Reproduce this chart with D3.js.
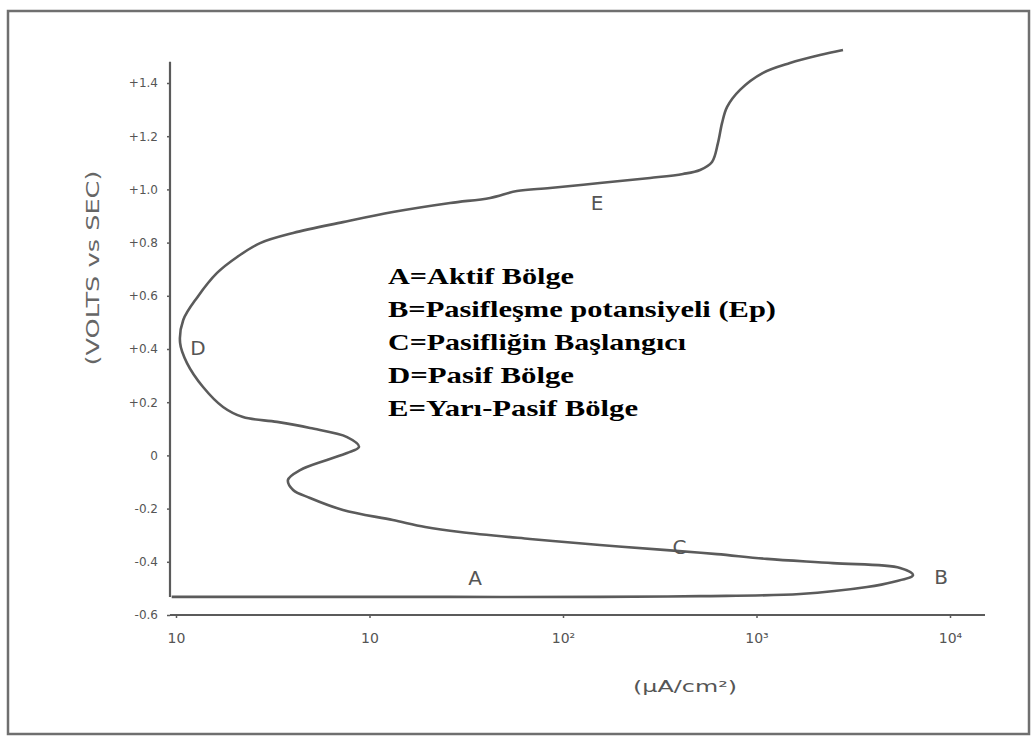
<!DOCTYPE html>
<html>
<head>
<meta charset="utf-8">
<script src="https://cdn.jsdelivr.net/npm/d3@7"></script>
<style>
  body { margin: 0; background: #fff; }
  svg { display: block; }
</style>
</head>
<body>
<svg id="polCurve"></svg>
<script>
// polarization curve: current density (uA/cm2) and potential (V vs SCE)
let currents = [0.95, 4.38, 26.1, 155, 511, 1679, 3724, 5070, 6442, 5521,
                2483, 1132, 625, 344, 155, 67.5, 29.4, 19.4, 13.2, 7.29, 4.93,
                4.03, 3.79, 4.38, 6.03, 7.66, 8.83, 7.66, 4.93, 3.33, 2.22,
                1.75, 1.38, 1.14, 1.05, 1.09, 1.29, 1.63, 2.07, 2.72, 4.03,
                7.29, 13.2, 26.1, 42.0, 57.8, 85.7, 155, 282, 417, 511,
                589, 632, 664, 705, 822, 1081, 1489, 2128, 2799];
let potentials = [-0.532, -0.532, -0.532, -0.532, -0.529, -0.521, -0.495, -0.476, -0.450, -0.423,
                  -0.405, -0.389, -0.371, -0.356, -0.337, -0.314, -0.288, -0.269, -0.243, -0.205, -0.160,
                  -0.130, -0.092, -0.055, -0.017, 0.009, 0.032, 0.069, 0.103, 0.126, 0.144,
                  0.182, 0.257, 0.347, 0.423, 0.509, 0.595, 0.686, 0.746, 0.798, 0.836,
                  0.877, 0.915, 0.949, 0.968, 0.994, 1.005, 1.024, 1.043, 1.058, 1.073,
                  1.103, 1.174, 1.250, 1.310, 1.374, 1.438, 1.475, 1.505, 1.524];

// region letters on the curve
let regionNames = ['A', 'B', 'C', 'D', 'E'];
let regionCurrents = [35.1, 9000, 400, 1.3, 150];
let regionPotentials = [-0.461, -0.455, -0.345, 0.403, 0.948];

// tick values and labels
let yTickVals = [1.4, 1.2, 1.0, 0.8, 0.6, 0.4, 0.2, 0, -0.2, -0.4, -0.6];
let yTickLabels = ['+1.4', '+1.2', '+1.0', '+0.8', '+0.6', '+0.4', '+0.2', '0', '-0.2', '-0.4', '-0.6'];
let xTickVals = [1, 10, 100, 1000, 10000];
let xTickLabels = ['10', '10', '10²', '10³', '10⁴'];

// legend text lines
let legendLines = ['A=Aktif Bölge', 'B=Pasifleşme potansiyeli (Ep)', 'C=Pasifliğin Başlangıcı',
                   'D=Pasif Bölge', 'E=Yarı-Pasif Bölge'];
let legendWidths = [186, 388, 298, 186, 250];

let widthSVG = 1035;
let heightSVG = 740;
let inkCol = '#5b5b5b';

let SVG = d3.select('svg#polCurve')
            .attr('width', widthSVG)
            .attr('height', heightSVG);

// scan frame
SVG.append('rect')
   .attr('x', 8)
   .attr('y', 11)
   .attr('width', 1021)
   .attr('height', 723)
   .style('fill', 'none')
   .style('stroke', '#6f6f6f')
   .style('stroke-width', 2.5);

// scales
let x = d3.scaleLog().domain([1, 10000]).range([176, 950]);
let y = d3.scaleLinear().domain([-0.6, 1.4]).range([615, 83]);

let axisX0 = 170;   // left edge of plot where the vertical axis sits

// vertical axis line, ends where the curve starts
SVG.append('line')
   .attr('x1', axisX0).attr('x2', axisX0)
   .attr('y1', y(1.48)).attr('y2', y(potentials[0]))
   .style('stroke', inkCol)
   .style('stroke-width', 2.2);

// horizontal axis line
SVG.append('line')
   .attr('x1', axisX0).attr('x2', 985)
   .attr('y1', y(-0.6)).attr('y2', y(-0.6))
   .style('stroke', inkCol)
   .style('stroke-width', 2.2);

// y axis ticks
let yAxis = d3.axisLeft(y)
              .tickValues(yTickVals)
              .tickSize(3)
              .tickPadding(9)
              .tickFormat((d, i) => yTickLabels[i]);

let yAxisG = SVG.append('g')
                .attr('transform', `translate(${axisX0}, 0)`)
                .call(yAxis);
yAxisG.select('.domain').remove();
yAxisG.selectAll('line').style('stroke', inkCol).style('stroke-width', 1.5);
yAxisG.selectAll('text')
      .style('font-family', 'DejaVu Sans')
      .style('font-size', '12px')
      .style('fill', '#555');

// x axis ticks
let xAxis = d3.axisBottom(x)
              .tickValues(xTickVals)
              .tickSize(3)
              .tickPadding(15)
              .tickFormat((d, i) => xTickLabels[i]);

let xAxisG = SVG.append('g')
                .attr('transform', `translate(0, ${y(-0.6)})`)
                .call(xAxis);
xAxisG.select('.domain').remove();
xAxisG.selectAll('line').style('stroke', inkCol).style('stroke-width', 1.5);
xAxisG.selectAll('text')
      .style('font-family', 'DejaVu Sans')
      .style('font-size', '14px')
      .style('fill', '#555');

// axis titles
SVG.append('text')
   .text('(VOLTS vs SEC)')
   .attr('transform', 'translate(99, 268) rotate(-90)')
   .attr('textLength', 195)
   .attr('lengthAdjust', 'spacingAndGlyphs')
   .style('text-anchor', 'middle')
   .style('font-family', 'DejaVu Sans')
   .style('font-size', '17px')
   .style('fill', '#666');

SVG.append('text')
   .text('(μA/cm²)')
   .attr('x', 685)
   .attr('y', 692)
   .attr('textLength', 104)
   .attr('lengthAdjust', 'spacingAndGlyphs')
   .style('text-anchor', 'middle')
   .style('font-family', 'DejaVu Sans')
   .style('font-size', '15px')
   .style('fill', '#555');

// the curve itself
let pts = currents.map((c, i) => [c, potentials[i]]);
let curveLine = d3.line()
                  .x(d => x(d[0]))
                  .y(d => y(d[1]))
                  .curve(d3.curveCatmullRom.alpha(0.5));

SVG.append('path')
   .datum(pts)
   .attr('d', curveLine)
   .style('fill', 'none')
   .style('stroke', inkCol)
   .style('stroke-width', 2.6)
   .style('stroke-linejoin', 'round');

// region letters
SVG.selectAll('text.region')
   .data(regionNames)
   .enter()
   .append('text')
   .classed('region', true)
   .text(d => d)
   .attr('x', (d, i) => x(regionCurrents[i]))
   .attr('y', (d, i) => y(regionPotentials[i]))
   .attr('dy', '0.36em')
   .style('text-anchor', 'middle')
   .style('font-family', 'DejaVu Sans')
   .style('font-size', '20px')
   .style('fill', '#555');

// legend block
SVG.append('g')
   .attr('transform', 'translate(388, 284)')
   .selectAll('text')
   .data(legendLines)
   .enter()
   .append('text')
   .text(d => d)
   .attr('y', (d, i) => i * 33)
   .attr('textLength', (d, i) => legendWidths[i])
   .attr('lengthAdjust', 'spacingAndGlyphs')
   .style('font-family', 'Liberation Serif')
   .style('font-weight', 'bold')
   .style('font-size', '24px')
   .style('fill', '#000');
</script>
</body>
</html>
